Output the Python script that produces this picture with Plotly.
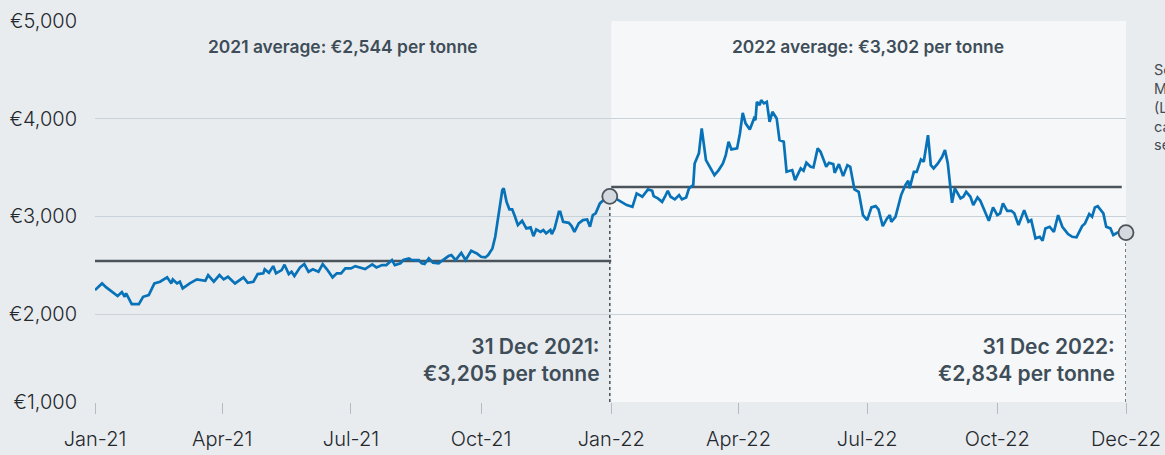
import pandas as pd
import plotly.graph_objects as go

# ---- data (days since 1 Jan 2021, EUR per tonne) ----
days_since_2021 = [
    0, 5, 8, 16, 19, 21, 22, 26, 31, 34, 38, 42, 46, 51, 54, 55, 58, 60, 62, 67,
    72, 78, 80, 84, 88, 91, 94, 99, 105, 108, 112, 115, 119, 120, 123, 126, 128, 132, 134, 137,
    139, 141, 145, 148, 151, 154, 158, 161, 164, 168, 171, 174, 177, 181, 184, 187, 191, 196, 199, 203,
    206, 210, 212, 216, 218, 222, 224, 229, 231, 233, 236, 239, 243, 246, 250, 252, 255, 259, 262, 266,
    270, 273, 276, 278, 281, 283, 285, 288, 289, 291, 293, 295, 297, 299, 302, 305, 308, 310, 312, 315,
    317, 319, 322, 323, 325, 328, 329, 331, 335, 337, 339, 342, 345, 348, 350, 352, 354, 357, 359, 364,
    368, 374, 376, 380, 383, 387, 391, 394, 395, 398, 401, 403, 405, 407, 410, 413, 415, 418, 420, 423,
    424, 427, 429, 432, 435, 438, 441, 444, 446, 448, 450, 454, 456, 458, 460, 463, 466, 467, 468, 470,
    471, 473, 475, 477, 479, 482, 484, 487, 489, 493, 495, 499, 501, 503, 506, 508, 511, 513, 516, 517,
    519, 522, 523, 526, 529, 532, 534, 537, 540, 543, 546, 549, 552, 554, 557, 560, 562, 563, 566, 568,
    570, 573, 575, 576, 579, 581, 584, 586, 589, 591, 593, 596, 599, 601, 603, 606, 608, 612, 614, 616,
    619, 621, 624, 626, 630, 632, 635, 638, 640, 642, 645, 648, 650, 653, 657, 660, 662, 665, 668, 670,
    672, 675, 678, 681, 684, 688, 691, 694, 698, 700, 703, 705, 707, 709, 713, 715, 718, 720, 724, 729,
]
price_eur = [
    2245, 2314, 2273, 2184, 2225, 2177, 2212, 2102, 2102, 2177, 2194, 2314, 2331, 2376, 2314, 2355, 2314, 2331, 2263, 2314,
    2355, 2341, 2399, 2331, 2399, 2355, 2382, 2314, 2376, 2320, 2331, 2409, 2417, 2458, 2423, 2491, 2417, 2450, 2505, 2409,
    2433, 2389, 2478, 2512, 2433, 2458, 2433, 2512, 2458, 2376, 2417, 2417, 2468, 2468, 2491, 2478, 2461, 2509, 2478, 2502,
    2502, 2553, 2502, 2519, 2553, 2570, 2553, 2553, 2519, 2512, 2570, 2525, 2519, 2553, 2594, 2604, 2553, 2627, 2553, 2648,
    2621, 2586, 2580, 2604, 2672, 2791, 2996, 3269, 3287, 3149, 3072, 3072, 2996, 2911, 2955, 2877, 2887, 2798, 2867, 2842,
    2860, 2826, 2860, 2819, 2877, 3047, 3047, 2945, 2934, 2901, 2842, 2928, 2962, 2969, 2894, 3013, 3031, 3133, 3160, 3205,
    3184, 3133, 3116, 3098, 3235, 3201, 3276, 3262, 3208, 3184, 3149, 3201, 3262, 3201, 3174, 3218, 3174, 3194, 3287, 3320,
    3542, 3645, 3901, 3576, 3501, 3423, 3474, 3542, 3627, 3764, 3686, 3696, 3849, 4060, 3952, 3890, 4003, 3986, 4173, 4139,
    4190, 4157, 4173, 3968, 4071, 4003, 3781, 3764, 3456, 3474, 3371, 3491, 3467, 3549, 3508, 3501, 3696, 3661, 3549, 3508,
    3549, 3535, 3446, 3535, 3412, 3525, 3508, 3276, 3252, 3013, 2962, 3092, 3105, 3072, 2901, 2979, 3013, 2945, 2996, 3098,
    3218, 3320, 3364, 3287, 3456, 3456, 3583, 3559, 3832, 3525, 3491, 3542, 3610, 3679, 3542, 3139, 3287, 3184, 3201, 3252,
    3201, 3116, 3194, 3160, 3031, 2955, 3092, 3013, 3031, 3133, 3057, 3057, 3031, 2911, 3064, 2945, 2962, 2775, 2791, 2750,
    2877, 2894, 2842, 3013, 2894, 2819, 2791, 2785, 2901, 2928, 3024, 2996, 3092, 3105, 3031, 2894, 2877, 2809, 2842, 2834,
]

avg_2021 = 2544
avg_2022 = 3302
end_2021_value = 3205
end_2022_value = 2834

x_tick_dates = ["2021-01-01", "2021-04-01", "2021-07-01", "2021-10-01", "2022-01-01",
                "2022-04-01", "2022-07-01", "2022-10-01", "2022-12-31"]
x_tick_labels = ["Jan-21", "Apr-21", "Jul-21", "Oct-21", "Jan-22",
                 "Apr-22", "Jul-22", "Oct-22", "Dec-22"]
y_tick_vals = [1100, 2000, 3000, 4000, 5000]
y_tick_labels = ["€1,000", "€2,000", "€3,000", "€4,000", "€5,000"]

# ---- styling ----
BG = "#e9ecef"
PANEL_2022 = "#f5f7f9"
GRID = "#c9d1d9"
LINE = "#0872b8"
DARK = "#4b535b"
TEXT = "#3e4d58"
FONT = "Inter"

dates = pd.Timestamp("2021-01-01") + pd.to_timedelta(days_since_2021, unit="D")

fig = go.Figure()

# average lines
fig.add_trace(go.Scatter(x=["2021-01-01", "2022-01-01"], y=[avg_2021, avg_2021],
                         mode="lines", line=dict(color=DARK, width=2.5),
                         hoverinfo="skip", showlegend=False))
fig.add_trace(go.Scatter(x=["2022-01-01", "2022-12-28"], y=[avg_2022, avg_2022],
                         mode="lines", line=dict(color=DARK, width=2.5),
                         hoverinfo="skip", showlegend=False))

# dotted drop lines
fig.add_trace(go.Scatter(x=["2021-12-31", "2021-12-31"], y=[1100, end_2021_value],
                         mode="lines", line=dict(color=DARK, width=1.5, dash="dot"),
                         hoverinfo="skip", showlegend=False))
fig.add_trace(go.Scatter(x=["2022-12-31", "2022-12-31"], y=[1100, end_2022_value],
                         mode="lines", line=dict(color=DARK, width=1.5, dash="dot"),
                         cliponaxis=False, hoverinfo="skip", showlegend=False))

# price line
fig.add_trace(go.Scatter(x=dates, y=price_eur, mode="lines",
                         line=dict(color=LINE, width=2.7),
                         showlegend=False))

# end markers
fig.add_trace(go.Scatter(x=["2021-12-31", "2022-12-31"], y=[end_2021_value, end_2022_value],
                         mode="markers",
                         marker=dict(size=15, color="#d3d9df", line=dict(color=DARK, width=1.8)),
                         cliponaxis=False, hoverinfo="skip", showlegend=False))

# 2022 lighter panel
fig.add_shape(type="rect", xref="x", yref="y", x0="2022-01-01", x1="2022-12-31",
              y0=1100, y1=5000, fillcolor=PANEL_2022, line=dict(width=0), layer="below")

ann_font = dict(family=FONT, size=17.4, color=TEXT, weight=600)
big_font = dict(family=FONT, size=21, color=TEXT, weight=600)

annotations = [
    dict(x=0.2405, y=0.933, xref="paper", yref="paper", text="2021 average: €2,544 per tonne",
         showarrow=False, xanchor="center", yanchor="middle", font=ann_font),
    dict(x=0.7498, y=0.933, xref="paper", yref="paper", text="2022 average: €3,302 per tonne",
         showarrow=False, xanchor="center", yanchor="middle", font=ann_font),
    dict(x=0.4916, y=0.11, xref="paper", yref="paper",
         text="31 Dec 2021:<br>€3,205 per tonne", align="right",
         showarrow=False, xanchor="right", yanchor="middle", font=big_font),
    dict(x=0.9912, y=0.11, xref="paper", yref="paper",
         text="31 Dec 2022:<br>€2,834 per tonne", align="right",
         showarrow=False, xanchor="right", yanchor="middle", font=big_font),
    dict(x=1.0252, y=0.775, xref="paper", yref="paper",
         text="Source: London<br>Metal Exchange<br>(LME), Nyrstar<br>calculations;<br>see notes",
         align="left", showarrow=False, xanchor="left", yanchor="middle",
         font=dict(family=FONT, size=14.5, color="#444b52")),
]

fig.update_layout(
    width=1165, height=455,
    margin=dict(l=95, r=39, t=21, b=53, autoexpand=False),
    paper_bgcolor=BG, plot_bgcolor=BG,
    font=dict(family=FONT, color="#2a2f35"),
    annotations=annotations,
    showlegend=False,
)

fig.update_xaxes(
    type="date", range=["2021-01-01", "2022-12-31"],
    tickvals=x_tick_dates, ticktext=x_tick_labels,
    showgrid=False, zeroline=False, showline=False, automargin=False,
    ticks="outside", ticklen=11, tickcolor="#b3bcc5", tickwidth=1.3,
    tickfont=dict(family=FONT, size=20, color="#23282d", weight=300),
    ticklabelstandoff=8,
)
fig.update_yaxes(
    range=[1100, 5000], tickvals=y_tick_vals, ticktext=y_tick_labels,
    showgrid=True, gridcolor=GRID, gridwidth=1.3, zeroline=False, showline=False,
    automargin=False,
    ticks="", tickfont=dict(family=FONT, size=20, color="#23282d", weight=300),
    ticklabelstandoff=17,
)

fig.write_html(
    "out.html",
    config={"displayModeBar": False},
    post_script="document.body.style.margin='0';document.body.style.background='" + BG + "';",
)
